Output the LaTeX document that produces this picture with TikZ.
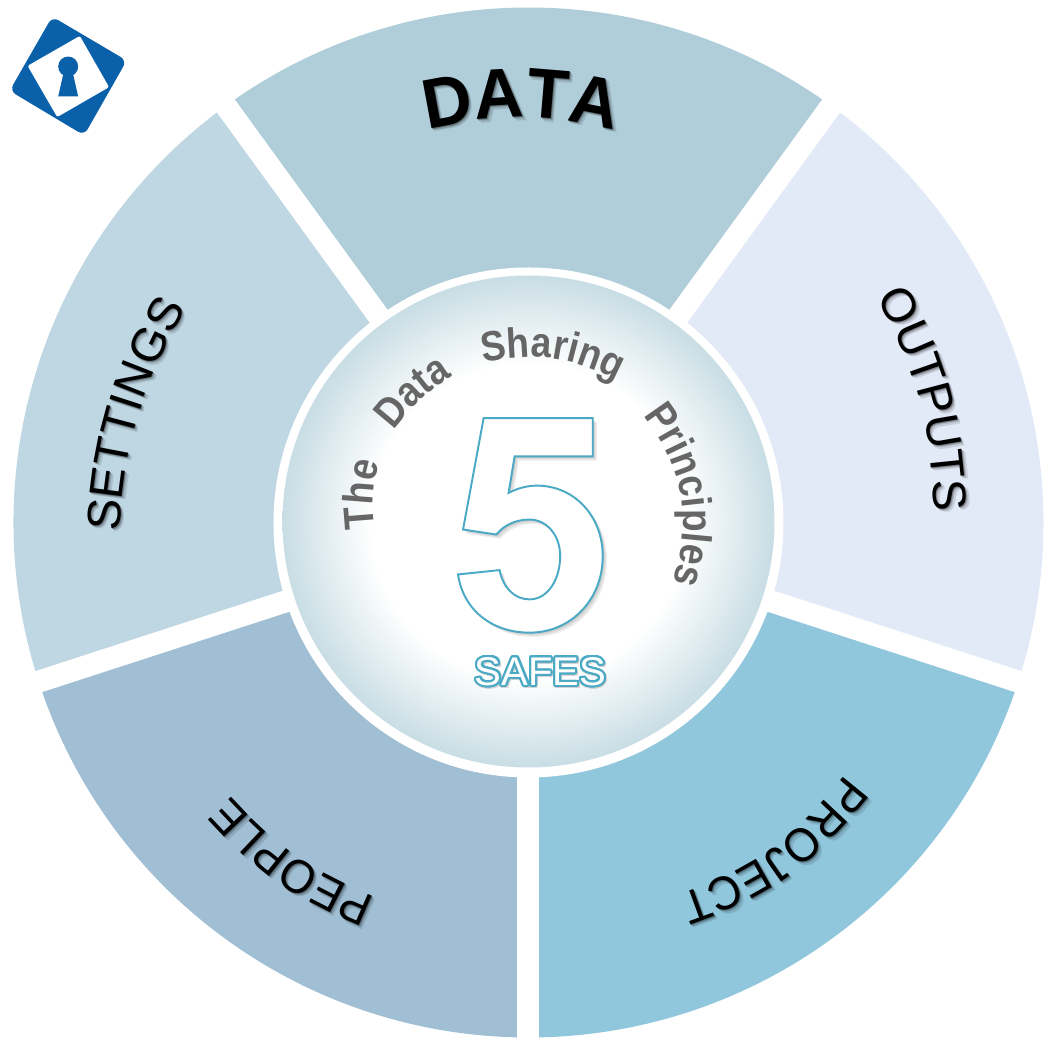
\documentclass[tikz,border=0pt]{standalone}
\usepackage{fontspec}
\setmainfont{Liberation Sans}
\newfontfamily\hubfam[FakeStretch=0.88]{Liberation Sans}
\newfontfamily\datafam[FakeStretch=0.97]{Liberation Sans}
\newfontfamily\narrowfam[FakeStretch=0.95]{Liberation Sans}
\usepackage[copies]{contour}
\usetikzlibrary{decorations.text}
\contourlength{0.6pt}
\definecolor{segdata}{HTML}{B0CEDA}
\definecolor{segoutputs}{HTML}{E3EAF7}
\definecolor{segproject}{HTML}{91C7DC}
\definecolor{segpeople}{HTML}{A0BFD4}
\definecolor{segsettings}{HTML}{BFD7E3}
\definecolor{hubedge}{HTML}{C8DDE4}
\definecolor{fiveline}{HTML}{4AA9C4}
\definecolor{wordgrey}{HTML}{666666}
\definecolor{logoblue}{HTML}{0B60AA}
\pgfdeclareradialshading{hubshade}{\pgfpoint{0bp}{0bp}}{color(0bp)=(white);color(16bp)=(white);color(25bp)=(hubedge);color(50bp)=(hubedge)}
\newcommand{\fivepath}{(462,295) -- (790,295) -- (790,410) -- (555,410) -- (537,520)
	.. controls (565,505) and (595,498) .. (622,498)
	.. controls (735,498) and (820,590) .. (820,710)
	.. controls (820,840) and (725,940) .. (600,940)
	.. controls (485,940) and (400,870) .. (385,765)
	-- (510,752)
	.. controls (520,805) and (555,840) .. (600,840)
	.. controls (655,840) and (692,780) .. (692,710)
	.. controls (692,645) and (650,600) .. (600,600)
	.. controls (560,600) and (525,615) .. (500,645)
	-- (400,630) -- cycle}
\tikzset{
	wordfit/.style={decorate,decoration={text along path,text={#1},text align={fit to path,right indent=0.04cm}}}
}
% word on a bent line, tops to the left of the line
\newcommand{\segword}[6]{%
	\foreach \off/\mixval in {0.035/12,0.02/25,0.01/45}
		\path[wordfit={|\color{black!\mixval!#6}#5|#1},xshift=\off cm,yshift=-\off cm] #2 to[bend left=#4] #3;
	\path[wordfit={|\color{black}#5|#1}] #2 to[bend left=#4] #3;}
\newcommand{\hubword}[4]{\path[wordfit={|\hubfont|#1}] #2 to[bend left=#4] #3;}
\newcommand{\segfont}{\fontsize{13.4}{15}\selectfont}
\newcommand{\narrowfont}{\narrowfam\fontsize{13.4}{15}\selectfont}
\newcommand{\datafont}{\datafam\fontsize{20}{22}\selectfont\bfseries}
\newcommand{\hubfont}{\hubfam\fontsize{12}{13}\selectfont\bfseries\color{wordgrey}}
\begin{document}
\begin{tikzpicture}
	\useasboundingbox (-5.285,-5.165) rectangle (5.155,5.225);
	\foreach \startang/\segcol in {54/segdata,-18/segoutputs,-90/segproject,198/segpeople,126/segsettings}
		\fill[\segcol] (0,0) -- (\startang:5.15) arc[start angle=\startang,delta angle=72,radius=5.15] -- cycle;
	\foreach \gapang in {54,126,198,270,342}
		\draw[white,line width=0.22cm] (0,0) -- (\gapang:5.4);
	\fill[white] (0,0) circle (2.55);
	\shade[shading=hubshade] (0,0.01) circle (2.46);
	\segword{DATA}{(-1.01,3.93)}{(0.87,3.92)}{13}{\datafont}{segdata}
	\segword{OUTPUTS}{(3.48,2.26)}{(4.06,0.08)}{13}{\segfont}{segoutputs}
	\segword{PROJECT}{(3.17,-2.52)}{(1.46,-3.73)}{17}{\narrowfont}{segproject}
	\segword{PEOPLE}{(-1.53,-3.75)}{(-3.00,-2.71)}{13}{\narrowfont}{segpeople}
	\segword{SETTINGS}{(-4.09,-0.09)}{(-3.42,2.14)}{13}{\segfont}{segsettings}
	\hubword{The}{(-1.54,-0.06)}{(-1.48,0.64)}{12}
	\hubword{Data}{(-1.35,0.92)}{(-0.73,1.48)}{10}
	\hubword{Sharing}{(-0.45,1.60)}{(0.92,1.40)}{20}
	\hubword{Principles}{(1.15,1.07)}{(1.44,-0.60)}{28}
	\begin{scope}[xshift=-1.985cm,yshift=2.025cm,x=0.003333cm,y=-0.003333cm]
		\foreach \off in {2,5,9,13}
			\fill[black,opacity=0.07,xshift=\off*0.0033cm,yshift=-\off*0.0033cm] \fivepath;
		\draw[fiveline,line width=0.55pt,fill=white] \fivepath;
	\end{scope}
	\node[inner sep=0pt,text=gray!35] (safesshadow) at (0.13,-1.515) {\fontsize{11.4}{13}\selectfont\contour{gray!35}{SAFES}};
	\node[inner sep=0pt,text=white] (safes) at (0.12,-1.50) {\fontsize{11.4}{13}\selectfont\contour{fiveline}{SAFES}};
	\begin{scope}[xshift=-5.285cm,yshift=5.225cm,x=0.003333cm,y=-0.003333cm]
		\fill[logoblue,rounded corners=0.07cm] (157,50) -- (381,182) -- (253,407) -- (29,273) -- cycle;
		\fill[white,rounded corners=0.02cm] (240,108) -- (328,262) -- (172,352) -- (83,198) -- cycle;
		\fill[logoblue] (205,200) circle[radius=30];
		\fill[logoblue] (192,215) -- (218,215) -- (235,290) -- (175,290) -- cycle;
	\end{scope}
\end{tikzpicture}
\end{document}
